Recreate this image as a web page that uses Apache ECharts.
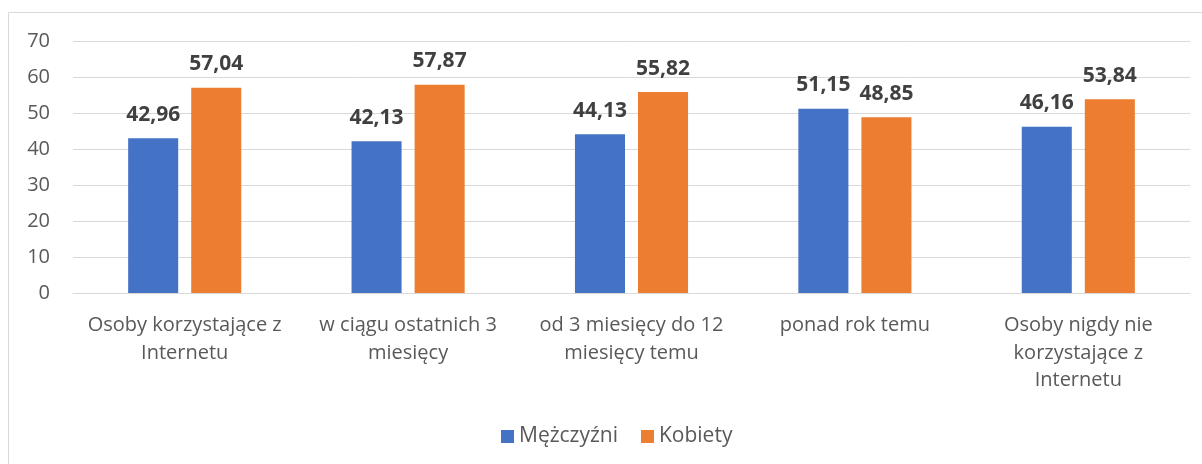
<!DOCTYPE html>
<html>
<head>
<meta charset="utf-8">
<script src="https://cdn.jsdelivr.net/npm/echarts@6/dist/echarts.min.js"></script>
<style>
  html, body { margin: 0; padding: 0; background: #fff; }
  #chart { width: 1202px; height: 464px; }
</style>
</head>
<body>
<div id="chart"></div>
<script>
// dane z wykresu
var categories = [
    'Osoby korzystające z\nInternetu',
    'w ciągu ostatnich 3\nmiesięcy',
    'od 3 miesięcy do 12\nmiesięcy temu',
    'ponad rok temu',
    'Osoby nigdy nie\nkorzystające z\nInternetu'
];
var seriesNames = ['Mężczyźni', 'Kobiety'];
var menValues = [42.96, 42.13, 44.13, 51.15, 46.16];
var womenValues = [57.04, 57.87, 55.82, 48.85, 53.84];
var yTicks = [0, 10, 20, 30, 40, 50, 60, 70];

(function () {
    var myChart = echarts.init(document.getElementById('chart'));
    var font = '"Open Sans", sans-serif';

    // etykieta z przecinkiem dziesiętnym
    function fmt(p) {
        return p.value.toFixed(2).replace('.', ',');
    }

    var labelStyle = {
        show: true,
        position: 'top',
        distance: 13,
        formatter: fmt,
        color: '#404040',
        fontFamily: font,
        fontWeight: 'bold',
        fontSize: 21
    };

    var option = {
        animation: false,
        color: ['#4472C4', '#ED7D31'],
        textStyle: { fontFamily: font },
        graphic: [{
            type: 'rect',
            shape: { x: 8.5, y: 12.5, width: 1200, height: 460 },
            style: { fill: 'none', stroke: '#D9D9D9', lineWidth: 1 },
            silent: true
        }],
        grid: {
            left: 73,
            right: 12,
            top: 41,
            bottom: 171
        },
        legend: {
            data: seriesNames,
            bottom: 12,
            left: 496,
            icon: 'rect',
            itemWidth: 13,
            itemHeight: 13,
            itemGap: 23,
            textStyle: { color: '#595959', fontSize: 21, fontFamily: font }
        },
        xAxis: {
            type: 'category',
            data: categories,
            axisTick: { show: false },
            axisLine: { lineStyle: { color: '#D9D9D9', width: 1 } },
            axisLabel: {
                color: '#595959',
                fontSize: 20,
                lineHeight: 27.5,
                margin: 19,
                interval: 0,
                fontFamily: font
            }
        },
        yAxis: {
            type: 'value',
            min: yTicks[0],
            max: yTicks[yTicks.length - 1],
            interval: yTicks[1] - yTicks[0],
            axisLine: { show: false },
            axisTick: { show: false },
            axisLabel: {
                color: '#595959',
                fontSize: 20,
                margin: 23,
                fontFamily: font
            },
            splitLine: { lineStyle: { color: '#D9D9D9', width: 1 } }
        },
        series: [
            {
                name: seriesNames[0],
                type: 'bar',
                data: menValues,
                barWidth: '22.4%',
                barGap: '26%',
                label: labelStyle
            },
            {
                name: seriesNames[1],
                type: 'bar',
                data: womenValues,
                barWidth: '22.4%',
                barGap: '26%',
                label: labelStyle
            }
        ]
    };

    myChart.setOption(option);
    window.addEventListener('resize', function () {
        myChart.resize();
    });
})();
</script>
</body>
</html>
